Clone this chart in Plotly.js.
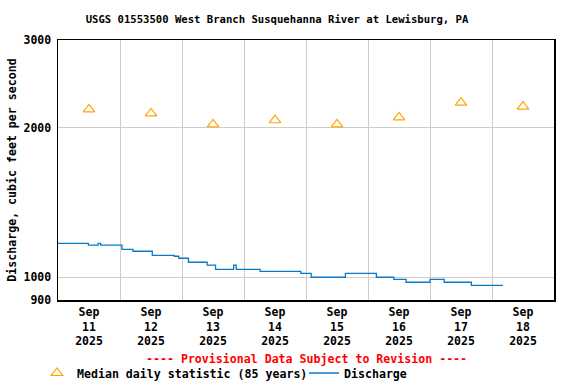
<!DOCTYPE html>
<html>
<head>
<meta charset="utf-8">
<script src="https://cdn.plot.ly/plotly-3.0.1.min.js"></script>
<style>html,body{margin:0;padding:0;background:#fff;}#chart{width:576px;height:384px;}</style>
</head>
<body>
<div id="chart"></div>
<script>
// Median daily statistic (85 years), plotted at noon of each day
const medianDates = ["2025-09-11 12:00","2025-09-12 12:00","2025-09-13 12:00","2025-09-14 12:00",
                     "2025-09-15 12:00","2025-09-16 12:00","2025-09-17 12:00","2025-09-18 12:00"];
const medianValues = [2175, 2135, 2029, 2069, 2029, 2096, 2245, 2204];

// Discharge (cfs), times where the value changes (step line)
const dischargeTimes = ["2025-09-11 00:00","2025-09-11 11:45","2025-09-11 15:30","2025-09-11 16:30",
  "2025-09-12 00:45","2025-09-12 05:00","2025-09-12 12:30","2025-09-12 21:00","2025-09-12 22:45",
  "2025-09-13 02:30","2025-09-13 09:45","2025-09-13 13:00","2025-09-13 20:00","2025-09-13 21:00",
  "2025-09-14 06:15","2025-09-14 22:00","2025-09-15 02:00","2025-09-15 15:15","2025-09-16 03:15",
  "2025-09-16 10:00","2025-09-16 14:45","2025-09-17 00:00","2025-09-17 05:30","2025-09-17 16:00",
  "2025-09-18 04:15"];
const dischargeValues = [1170, 1160, 1170, 1160,
  1138, 1128, 1107, 1102, 1092,
  1072, 1058, 1037, 1058, 1037,
  1028, 1018, 1000, 1018, 1000,
  990, 977, 990, 977, 963,
  963];

const yTicks = [900, 1000, 2000, 3000];
const yTickText = ["900", "1000", "2000", "3000"];

const xRange = ['2025-09-11 00:00', '2025-09-19 00:00'];

const FONT = '"DejaVu Sans Mono", "Liberation Mono", monospace';
const tickFont = {family: FONT, size: 11.5, color: '#000'};

const traces = [
  {
    x: medianDates, y: medianValues, type: 'scatter', mode: 'markers',
    name: '<b>Median daily statistic (85 years)</b>',
    marker: {symbol: 'triangle-up-open', size: 10, color: '#FFA500', line: {color: '#FFA500', width: 1.2}},
    hoverinfo: 'skip', legend: 'legend'
  },
  {
    x: dischargeTimes, y: dischargeValues, type: 'scatter', mode: 'lines',
    name: '<b>Discharge</b>',
    line: {color: '#0a78c8', width: 1.3, shape: 'hv'},
    hoverinfo: 'skip', legend: 'legend2'
  },
  // invisible carriers so the overlaid label axes (day, year rows) are drawn
  {
    x: medianDates, y: medianValues, xaxis: 'x2', type: 'scatter', mode: 'markers',
    marker: {opacity: 0}, showlegend: false, hoverinfo: 'skip'
  },
  {
    x: medianDates, y: medianValues, xaxis: 'x3', type: 'scatter', mode: 'markers',
    marker: {opacity: 0}, showlegend: false, hoverinfo: 'skip'
  }
];

function labelAxis(fmt, standoff, extra) {
  return Object.assign({
    type: 'date', range: xRange,
    tick0: '2025-09-11', dtick: 86400000,
    ticklabelmode: 'period',
    tickformat: fmt,
    ticks: '', showgrid: false, showline: false, zeroline: false,
    automargin: false, ticklabelstandoff: standoff,
    tickfont: tickFont
  }, extra || {});
}

const legendBase = {
  orientation: 'h', xref: 'container', xanchor: 'left',
  yref: 'container', y: 1 - 373/384, yanchor: 'middle',
  font: {family: FONT, size: 11.6, color: '#000'},
  bgcolor: 'rgba(0,0,0,0)', itemwidth: 30
};

const layout = {
  width: 576, height: 384,
  margin: {l: 58, r: 22, t: 40, b: 84},
  paper_bgcolor: '#ffffff', plot_bgcolor: '#ffffff',
  font: {family: FONT, size: 11.5, color: '#000'},
  title: {
    text: '<b>USGS 01553500 West Branch Susquehanna River at Lewisburg, PA</b>',
    font: {family: FONT, size: 10.6, color: '#000'},
    x: 277/576, xref: 'container', xanchor: 'center',
    y: 1 - 19/384, yref: 'container', yanchor: 'middle'
  },
  xaxis: labelAxis('<b>%b</b>', 1, {
    showgrid: true, gridcolor: '#cccccc', gridwidth: 1,
    showline: true, linecolor: '#000', linewidth: 1.5, mirror: true
  }),
  xaxis2: labelAxis('<b>%d</b>', 18, {overlaying: 'x', anchor: 'y', side: 'bottom'}),
  xaxis3: labelAxis('<b>%Y</b>', 32, {overlaying: 'x', anchor: 'y', side: 'bottom'}),
  yaxis: {
    type: 'log',
    range: [Math.log10(900), Math.log10(3000)],
    tickmode: 'array', tickvals: yTicks, ticktext: yTickText.map(t => '<b>' + t + '</b>'),
    ticks: '', showgrid: true, gridcolor: '#cccccc', gridwidth: 1,
    showline: true, linecolor: '#000', linewidth: 1.5, mirror: true,
    zeroline: false, automargin: false, ticklabelstandoff: 3,
    tickfont: tickFont,
    title: {text: '<b>Discharge, cubic feet per second</b>', font: {family: FONT, size: 11.6, color: '#000'}, standoff: 4}
  },
  showlegend: true,
  legend: Object.assign({x: 37/576}, legendBase),
  legend2: Object.assign({x: 304/576}, legendBase),
  annotations: [{
    text: '<b>---- Provisional Data Subject to Revision ----</b>',
    xref: 'paper', yref: 'paper', x: 0.5, y: -(359-300)/260, xanchor: 'center', yanchor: 'middle',
    showarrow: false, font: {family: FONT, size: 11.6, color: '#ff0000'}
  }]
};

Plotly.newPlot('chart', traces, layout, {staticPlot: true, displayModeBar: false});
</script>
</body>
</html>
